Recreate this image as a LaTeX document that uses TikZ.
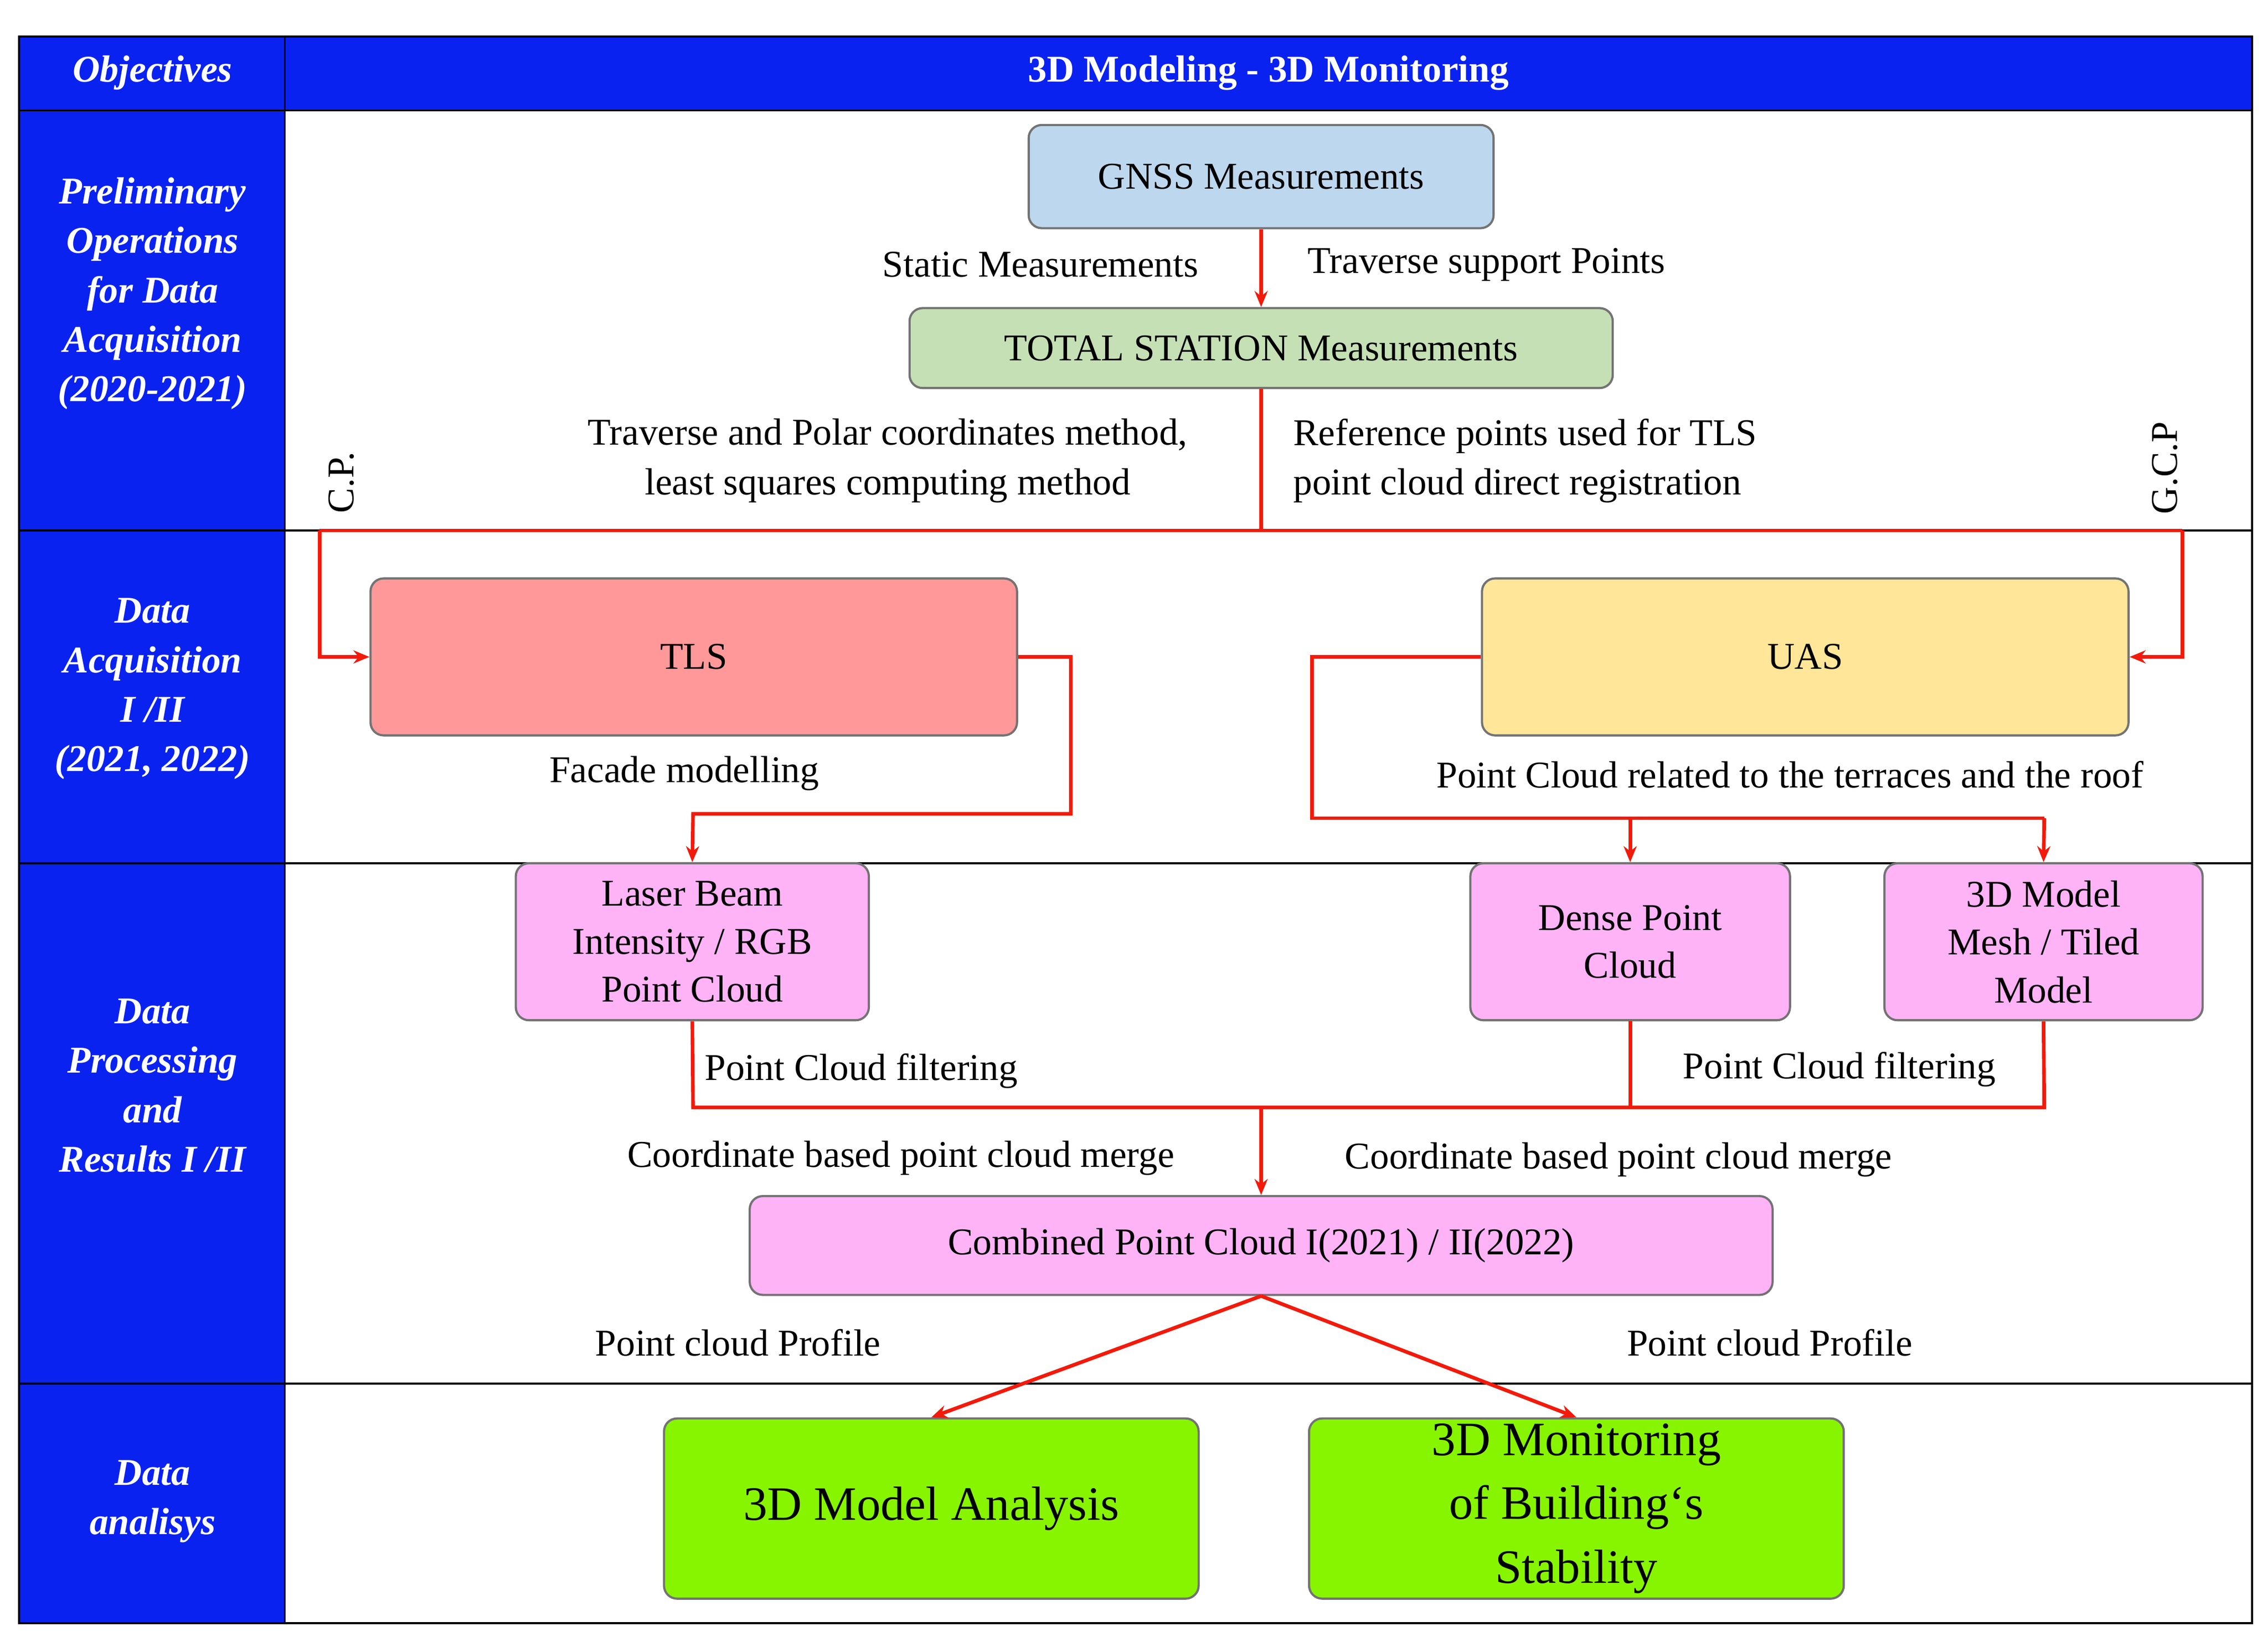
\documentclass[tikz,border=0pt]{standalone}
\usepackage{fontspec}
\setmainfont{Liberation Serif}
\usetikzlibrary{arrows.meta}
\definecolor{hblue}{HTML}{0A22F0}
\definecolor{cgnss}{HTML}{BDD7EE}
\definecolor{cts}{HTML}{C5E0B4}
\definecolor{ctls}{HTML}{FF9999}
\definecolor{cuas}{HTML}{FFE699}
\definecolor{cpink}{HTML}{FFB3F7}
\definecolor{cgreen}{HTML}{88F500}
\definecolor{ared}{HTML}{F21A0A}
\begin{document}
\begin{tikzpicture}[x=1pt,y=-1pt,
  box/.style={draw=black!55,line width=1.5pt,rounded corners=9pt,align=center,font=\fontsize{26}{33}\selectfont},
  lab/.style={font=\fontsize{26}{34}\selectfont,align=center,inner sep=0},
  side/.style={font=\fontsize{26}{34}\selectfont\bfseries\itshape,text=white,align=center},
  arr/.style={draw=ared,line width=2.5pt,-{Stealth[length=11pt,width=9pt]}},
  ln/.style={draw=ared,line width=2.5pt}]
\useasboundingbox (0,0) rectangle (1561,1133);
\fill[hblue] (13,25) rectangle (1550,76);
\fill[hblue] (13,76) rectangle (196,1117);
\draw[line width=1.5pt] (13,25) rectangle (1550,1117);
\foreach \y in {76,365,594,952}{\draw[line width=1.2pt] (13,\y) -- (1550,\y);}
\draw[line width=1.2pt] (196,25) -- (196,1117);
\node[side] (h1) at (105,50) {Objectives};
\node[side,font=\fontsize{26}{34}\selectfont\bfseries] (h2) at (873,50) {3D Modeling - 3D Monitoring};
\node[side] (s1) at (105,202) {Preliminary\\Operations\\for Data\\Acquisition\\(2020-2021)};
\node[side] (s2) at (105,474) {Data\\Acquisition\\I /II\\(2021, 2022)};
\node[side] (s3) at (105,747) {Data\\Processing\\and\\Results I /II};
\node[side] (s4) at (105,1033) {Data\\analisys};

\node[box,fill=cgnss,minimum width=320pt,minimum height=71pt] (gnss) at (868,121.5) {GNSS Measurements};
\node[box,fill=cts,minimum width=484pt,minimum height=55pt] (ts) at (868,239.5) {TOTAL STATION Measurements};
\node[box,fill=ctls,minimum width=445pt,minimum height=108pt] (tls) at (477.5,452) {TLS};
\node[box,fill=cuas,minimum width=445pt,minimum height=108pt] (uas) at (1242.5,452) {UAS};
\node[box,fill=cpink,minimum width=243pt,minimum height=108pt] (laser) at (476.5,648) {Laser Beam\\Intensity / RGB\\Point Cloud};
\node[box,fill=cpink,minimum width=220pt,minimum height=108pt] (dense) at (1122,648) {Dense Point\\Cloud};
\node[box,fill=cpink,minimum width=219pt,minimum height=108pt] (mesh) at (1406.5,648) {3D Model\\Mesh / Tiled\\Model};
\node[box,fill=cpink,minimum width=704pt,minimum height=68pt] (comb) at (868,857) {Combined Point Cloud I(2021) / II(2022)};
\node[box,fill=cgreen,minimum width=368pt,minimum height=124pt,font=\fontsize{33}{44}\selectfont] (ana) at (641,1038) {3D Model Analysis};
\node[box,fill=cgreen,minimum width=368pt,minimum height=124pt,font=\fontsize{33}{44}\selectfont] (mon) at (1085,1038) {3D Monitoring\\of Building`s\\Stability};

\coordinate (j1) at (868,365);
\coordinate (cl) at (220,365);
\coordinate (cr) at (1502,365);
\coordinate (j2) at (868,762);
\coordinate (c1) at (1122,563);

\draw[arr] (gnss) -- (ts);
\draw[ln] (ts.south) -- (j1);
\draw[ln] (cl) -- (cr);
\draw[arr] (cl) |- (tls.west);
\draw[arr] (cr) |- (uas.east);
\draw[arr] (tls.east) -- (737,452) -- (737,560) -- (477,560) -- (laser.north);
\draw[ln] (uas.west) -- (903,452) -- (903,563) -- (1407,563);
\draw[arr] (c1) -- (dense.north);
\draw[arr] (1407,563) -- (mesh.north);
\draw[ln] (laser.south) -- (477,762) -- (1407,762) -- (mesh.south);
\draw[ln] (dense.south) -- (1122,762);
\draw[arr] (j2) -- (comb.north);
\draw[arr] (comb.south) -- (ana.north);
\draw[arr] (comb.south) -- (mon.north);

\node[lab,anchor=east] (l1) at (825,182) {Static Measurements};
\node[lab,anchor=west] (l2) at (900,182) {Traverse support Points};
\node[lab] (l3) at (611,317) {Traverse and Polar coordinates method,\\least squares computing method};
\node[lab,align=left,anchor=west] (l4) at (890,317) {Reference points used for TLS\\point cloud direct registration};
\node[lab,rotate=90] (l5) at (235,332) {C.P.};
\node[lab,rotate=90] (l6) at (1490,322) {G.C.P};
\node[lab] (l7) at (471,532) {Facade modelling};
\node[lab] (l8) at (1232,533) {Point Cloud related to the terraces and the roof};
\node[lab,anchor=west] (l9) at (485,737) {Point Cloud filtering};
\node[lab] (l10) at (1266,736) {Point Cloud filtering};
\node[lab] (l11) at (620,797) {Coordinate based point cloud merge};
\node[lab] (l12) at (1114,798) {Coordinate based point cloud merge};
\node[lab] (l13) at (508,924) {Point cloud Profile};
\node[lab] (l14) at (1218,924) {Point cloud Profile};
\end{tikzpicture}
\end{document}
